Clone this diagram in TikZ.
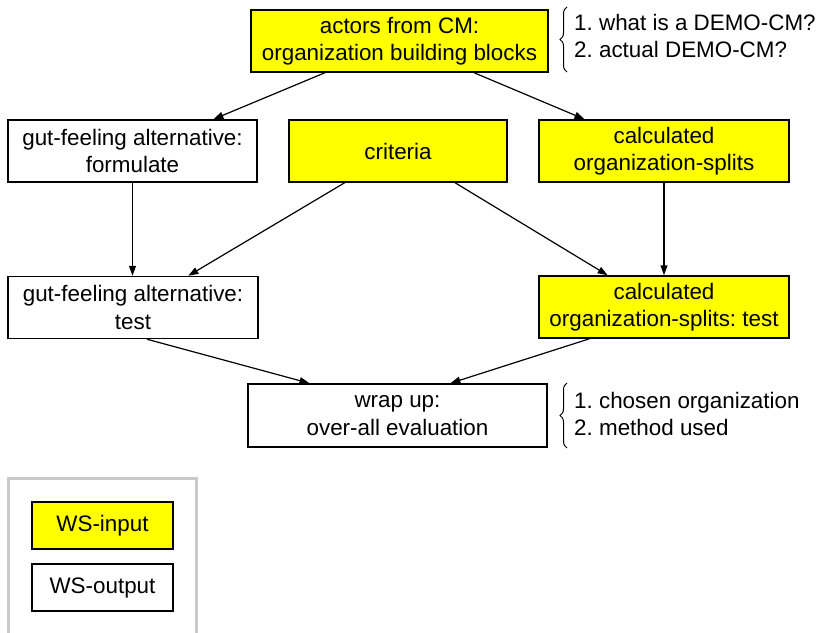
\documentclass[tikz,border=0pt]{standalone}
\usepackage{fontspec}
\setmainfont{Liberation Sans}
\usetikzlibrary{calc,arrows.meta,decorations.pathreplacing}
\definecolor{wsyellow}{HTML}{FFFF00}
\definecolor{framegray}{HTML}{CACACA}
\frenchspacing
\begin{document}
\begin{tikzpicture}[x=1pt,y=-1pt,
  every node/.style={font=\fontsize{22.4}{27.5}\selectfont, align=center, inner sep=0pt},
  wsbox/.style={draw=black, line width=1.5pt, minimum height=62pt},
  wsin/.style={wsbox, fill=wsyellow},
  wsout/.style={wsbox, fill=white},
  flow/.style={line width=1.2pt, -{Triangle[length=10pt,width=7pt]}},
  curly/.style={line width=1pt, decorate, decoration={brace, amplitude=7pt}},
  note/.style={anchor=west, align=left}
]
\useasboundingbox (0,0) rectangle (819,632);

% work-session boxes
\node[wsin, minimum width=297pt] (top) at (399.5,41) {actors from CM:\\organization building blocks};
\node[wsout, minimum width=249pt] (gutf) at (132.5,151) {gut-feeling alternative:\\formulate};
\node[wsin, minimum width=218pt] (crit) at (398,151) {criteria};
\node[wsin, minimum width=250pt] (calc) at (664,151) {calculated\\organization-splits};
\node[wsout, minimum width=250pt] (gutt) at (133,307.5) {gut-feeling alternative:\\test};
\node[wsin, minimum width=250pt] (calct) at (664,307) {calculated\\organization-splits: test};
\node[wsout, minimum width=299pt, minimum height=63pt] (wrap) at (397.5,415.5) {wrap up:\\over-all evaluation};

% flow between the sessions
\draw[flow] ($(top.south west)!0.25!(top.south east)$) -- ($(gutf.north west)!0.823!(gutf.north east)$);
\draw[flow] ($(top.south west)!0.75!(top.south east)$) -- ($(calc.north west)!0.184!(calc.north east)$);
\draw[flow] (gutf.south) -- (gutf.south |- gutt.north);
\draw[flow] ($(crit.south west)!0.257!(crit.south east)$) -- ($(gutt.north west)!0.72!(gutt.north east)$);
\draw[flow] ($(crit.south west)!0.76!(crit.south east)$) -- ($(calct.north west)!0.276!(calct.north east)$);
\draw[flow] (calc.south) -- (calc.south |- calct.north);
\draw[flow] ($(gutt.south west)!0.556!(gutt.south east)$) -- ($(wrap.north west)!0.207!(wrap.north east)$);
\draw[flow] ($(calct.south west)!0.204!(calct.south east)$) -- ($(wrap.north west)!0.676!(wrap.north east)$);

% annotations
\coordinate (tb1) at (567,72);
\coordinate (tb2) at (567,7);
\draw[curly] (tb1) -- (tb2);
\node[note] (topnote) at (574,36) {1. what is a DEMO-CM?\\2. actual DEMO-CM?};
\coordinate (bb1) at (567,448);
\coordinate (bb2) at (567,383);
\draw[curly] (bb1) -- (bb2);
\node[note] (wrapnote) at (574,414) {1. chosen organization\\2. method used};

% legend
\draw[framegray, line width=3pt] (8.5,640) -- (8.5,478.5) -- (196,478.5) -- (196,640);
\node[wsin, minimum width=141pt, minimum height=47pt] (legin) at (102.5,525.5) {WS-input};
\node[wsout, minimum width=141pt, minimum height=47pt] (legout) at (102.5,587.5) {WS-output};
\end{tikzpicture}
\end{document}
